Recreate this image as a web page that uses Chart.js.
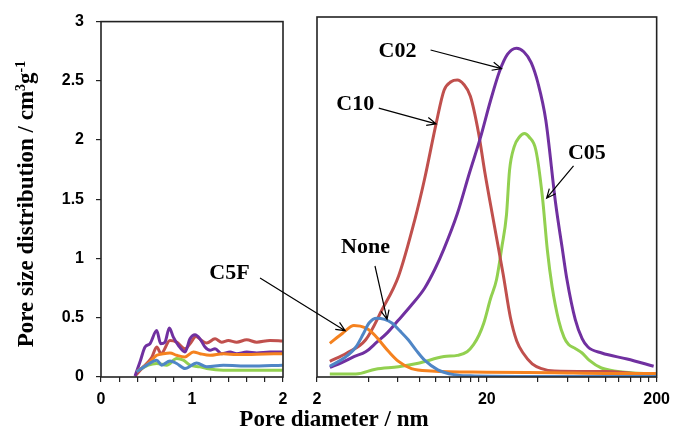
<!DOCTYPE html>
<html>
<head>
<meta charset="utf-8">
<script src="https://cdn.jsdelivr.net/npm/chart.js@4/dist/chart.umd.min.js"></script>
<style>
  html, body { margin: 0; padding: 0; background: #fff; }
  #wrap { position: relative; width: 678px; height: 432px; }
  #wrap canvas { position: absolute; left: 0; top: 0; }
  #meso { pointer-events: none; }
</style>
</head>
<body>
<div id="wrap">
  <canvas id="micro" width="678" height="432"></canvas>
  <canvas id="meso" width="678" height="432"></canvas>
</div>
<script>
// series names and colours
const seriesNames = ["None", "C5F", "C02", "C10", "C05"];
const seriesColors = ["#4f86c6", "#f5821f", "#7030a0", "#c0504d", "#92d050"];

// left panel: pore diameter 0-2 nm (linear)
const noneMicro = [[0.392,0.044],[0.502,0.1],[0.612,0.142],[0.667,0.1],[0.758,0.136],[0.832,0.114],[0.923,0.072],[1.051,0.119],[1.161,0.086],[1.344,0.1],[1.637,0.092],[1.996,0.1]];
const c5fMicro = [[0.392,0.044],[0.538,0.128],[0.612,0.183],[0.685,0.197],[0.758,0.203],[0.832,0.183],[0.923,0.169],[1.015,0.211],[1.088,0.197],[1.198,0.183],[1.344,0.197],[1.491,0.189],[1.711,0.192],[1.996,0.197]];
const c02Micro = [[0.374,0.008],[0.429,0.128],[0.484,0.253],[0.538,0.281],[0.612,0.392],[0.656,0.281],[0.703,0.294],[0.751,0.414],[0.795,0.336],[0.85,0.267],[0.923,0.211],[0.978,0.322],[1.033,0.356],[1.088,0.322],[1.143,0.253],[1.198,0.225],[1.253,0.239],[1.326,0.197],[1.418,0.211],[1.491,0.197],[1.601,0.211],[1.711,0.203],[1.857,0.211],[1.996,0.211]];
const c10Micro = [[0.374,0.008],[0.465,0.086],[0.557,0.164],[0.612,0.253],[0.66,0.197],[0.758,0.308],[0.832,0.294],[0.923,0.239],[0.978,0.281],[1.044,0.342],[1.106,0.308],[1.161,0.286],[1.253,0.322],[1.326,0.294],[1.399,0.308],[1.491,0.294],[1.601,0.314],[1.711,0.294],[1.857,0.308],[1.996,0.303]];
const c05Micro = [[0.392,0.044],[0.52,0.1],[0.612,0.114],[0.722,0.1],[0.832,0.156],[0.905,0.142],[0.978,0.1],[1.088,0.086],[1.161,0.072],[1.344,0.058],[1.637,0.058],[1.996,0.058]];

// right panel: pore diameter 2-200 nm (log)
const noneMeso = [[2.38,0.09],[2.9,0.16],[3.39,0.25],[3.75,0.36],[4.05,0.45],[4.5,0.49],[5.0,0.48],[5.52,0.45],[6.2,0.38],[6.89,0.31],[7.7,0.22],[8.6,0.14],[10.3,0.06],[12.8,0.02],[16,0.01],[30,0.005],[198,0.005]];
const c5fMeso = [[2.38,0.28],[2.83,0.365],[3.3,0.43],[3.87,0.41],[4.3,0.36],[4.62,0.31],[5.3,0.21],[6.04,0.13],[7.2,0.07],[9.4,0.05],[20,0.04],[50,0.035],[100,0.03],[198,0.03]];
const c02Meso = [[2.38,0.08],[2.8,0.12],[3.3,0.17],[3.87,0.21],[4.5,0.29],[5.2,0.37],[6.0,0.47],[7.2,0.6],[8.6,0.74],[9.9,0.9],[11.2,1.07],[13.4,1.36],[15.8,1.7],[18.3,1.99],[21,2.3],[23.8,2.55],[26.5,2.69],[29.9,2.74],[33,2.71],[36.5,2.62],[40,2.45],[44.5,2.14],[50.8,1.45],[55.5,1.08],[59.3,0.81],[66.3,0.48],[72.8,0.32],[78.8,0.25],[95,0.2],[134,0.15],[192,0.09]];
const c10Meso = [[2.38,0.13],[3.0,0.2],[3.87,0.31],[4.83,0.56],[6.04,0.84],[7.53,1.31],[8.6,1.65],[10.05,2.11],[11.2,2.39],[12.3,2.46],[13.4,2.475],[14.6,2.44],[16.0,2.34],[17.9,2.03],[19.5,1.7],[21.9,1.3],[25,0.85],[27.5,0.5],[30,0.3],[32.7,0.2],[37,0.11],[42,0.07],[50,0.05],[100,0.045],[150,0.03],[192,0.02]];
const c05Meso = [[2.38,0.025],[3.39,0.025],[4.42,0.065],[6.04,0.086],[7.9,0.115],[11.2,0.17],[13.4,0.18],[15.3,0.21],[16.7,0.27],[18,0.35],[19.2,0.45],[21,0.65],[22.8,0.81],[24.5,1.08],[26.1,1.35],[27.2,1.72],[29,1.92],[31.1,2.0],[33.3,2.03],[35.5,2.0],[38.9,1.89],[42.5,1.5],[45.5,1.05],[48.5,0.75],[53,0.47],[57,0.33],[60.6,0.27],[66,0.24],[72.8,0.2],[80,0.14],[94.6,0.075],[130,0.04],[192,0.025]];

// axis ticks
const yTickStep = 0.5;
const microTickStep = 0.2;
const mesoTicks = [2,4,6,8,10,12,14,16,18,20,40,60,80,100,120,140,160,180,200];
const mesoTickLabels = [2, 20, 200];

// annotation labels: text, label centre, arrow start, arrow tip (data units of right panel)
const annoText = ["C02", "C10", "C05", "None", "C5F"];
const annoAt = [[5.96,2.73],[3.36,2.29],[77.7,1.88],[3.86,1.10],[0.61,0.88]];
const annoFrom = [[9.33,2.725],[4.62,2.24],[64.8,1.76],[4.39,0.925],[0.924,0.825]];
const annoTo = [[24.4,2.57],[10.05,2.11],[45.0,1.49],[5.17,0.48],[2.93,0.386]];

const serif = '"Liberation Serif", "Times New Roman", serif';
const sans = '"Liberation Sans", Arial, sans-serif';
const axisColor = "#222";

const toXY = (pts) => pts.map((p) => ({ x: p[0], y: p[1] }));

function makeDatasets(list) {
  return list.map((pts, i) => ({
    label: seriesNames[i],
    data: toXY(pts),
    borderColor: seriesColors[i],
    borderWidth: 3,
    pointRadius: 0,
    fill: false,
    cubicInterpolationMode: "monotone",
  }));
}

// box around each plot area
const framePlugin = {
  id: "frame",
  afterDraw(chart) {
    const { ctx, chartArea: a } = chart;
    ctx.save();
    ctx.strokeStyle = axisColor;
    ctx.lineWidth = 1.6;
    ctx.strokeRect(a.left, a.top, a.right - a.left, a.bottom - a.top);
    ctx.restore();
  },
};

function drawArrow(ctx, x1, y1, x2, y2) {
  const ang = Math.atan2(y2 - y1, x2 - x1);
  const len = 10, spread = 0.42;
  ctx.beginPath();
  ctx.moveTo(x1, y1);
  ctx.lineTo(x2, y2);
  ctx.moveTo(x2 - len * Math.cos(ang - spread), y2 - len * Math.sin(ang - spread));
  ctx.lineTo(x2, y2);
  ctx.lineTo(x2 - len * Math.cos(ang + spread), y2 - len * Math.sin(ang + spread));
  ctx.stroke();
}

// labels, arrows and the shared x title
const labelPlugin = {
  id: "labels",
  afterDraw(chart) {
    const { ctx } = chart;
    const xs = chart.scales.x, ys = chart.scales.y;
    ctx.save();
    ctx.fillStyle = "#000";
    ctx.strokeStyle = "#000";
    ctx.lineWidth = 1.2;
    ctx.font = "bold 22px " + serif;
    ctx.textAlign = "center";
    ctx.textBaseline = "alphabetic";
    annoText.forEach((t, i) => {
      const px = xs.getPixelForValue(annoAt[i][0]);
      const py = ys.getPixelForValue(annoAt[i][1]);
      ctx.fillText(t, px, py + 7.5);
      drawArrow(ctx,
        xs.getPixelForValue(annoFrom[i][0]), ys.getPixelForValue(annoFrom[i][1]),
        xs.getPixelForValue(annoTo[i][0]), ys.getPixelForValue(annoTo[i][1]));
    });
    ctx.font = "bold 23px " + serif;
    ctx.fillText("Pore diameter / nm", 334, 426);
    ctx.restore();
  },
};

// y title with superscripts, drawn on the left chart
const yTitlePlugin = {
  id: "ytitle",
  afterDraw(chart) {
    const { ctx } = chart;
    const parts = [
      ["Pore size distribution / cm", false],
      ["3", true],
      ["g", false],
      ["-1", true],
    ];
    const big = "bold 23px " + serif, small = "bold 14px " + serif;
    let total = 0;
    parts.forEach(([t, sup]) => { ctx.font = sup ? small : big; total += ctx.measureText(t).width; });
    ctx.save();
    ctx.translate(33, 204);
    ctx.rotate(-Math.PI / 2);
    ctx.fillStyle = "#000";
    ctx.textAlign = "left";
    ctx.textBaseline = "alphabetic";
    let x = -total / 2;
    parts.forEach(([t, sup]) => {
      ctx.font = sup ? small : big;
      ctx.fillText(t, x, sup ? -8 : 0);
      x += ctx.measureText(t).width;
    });
    ctx.restore();
  },
};

const tickFont = { family: sans, size: 16, weight: "bold" };

new Chart(document.getElementById("micro"), {
  type: "line",
  data: { datasets: makeDatasets([noneMicro, c5fMicro, c02Micro, c10Micro, c05Micro]) },
  options: {
    responsive: false,
    animation: false,
    layout: { padding: { left: 0, top: 17, right: 395, bottom: 0 } },
    plugins: { legend: { display: false }, tooltip: { enabled: false } },
    scales: {
      x: {
        type: "linear",
        min: 0,
        max: 2,
        border: { display: false },
        grid: { drawOnChartArea: false, tickLength: 5, color: axisColor, lineWidth: 1.2 },
        ticks: {
          stepSize: microTickStep,
          autoSkip: false,
          maxRotation: 0,
          padding: 8,
          color: "#000",
          font: tickFont,
          callback: (v) => (Math.abs(v - Math.round(v)) < 1e-6 ? String(Math.round(v)) : ""),
        },
        afterFit: (s) => { s.height = 55; },
      },
      y: {
        min: 0,
        max: 3,
        border: { display: false },
        grid: { drawOnChartArea: false, tickLength: 5, color: axisColor, lineWidth: 1.2 },
        ticks: {
          stepSize: yTickStep,
          padding: 12,
          color: "#000",
          font: tickFont,
          callback: (v) => String(Math.round(v * 10) / 10),
        },
        afterFit: (s) => { s.width = 101; },
      },
    },
  },
  plugins: [framePlugin, yTitlePlugin],
});

new Chart(document.getElementById("meso"), {
  type: "line",
  data: { datasets: makeDatasets([noneMeso, c5fMeso, c02Meso, c10Meso, c05Meso]) },
  options: {
    responsive: false,
    animation: false,
    events: [],
    layout: { padding: { left: 317, top: 17, right: 15, bottom: 0 } },
    plugins: { legend: { display: false }, tooltip: { enabled: false } },
    scales: {
      x: {
        type: "logarithmic",
        min: 2,
        max: 200,
        border: { display: false },
        grid: { drawOnChartArea: false, tickLength: 5, color: axisColor, lineWidth: 1.2 },
        afterBuildTicks: (s) => { s.ticks = mesoTicks.map((v) => ({ value: v })); },
        ticks: {
          autoSkip: false,
          maxRotation: 0,
          padding: 8,
          color: "#000",
          font: tickFont,
          callback: (v) => (mesoTickLabels.includes(v) ? String(v) : ""),
        },
        afterFit: (s) => { s.height = 55; },
      },
      y: { display: false, min: 0, max: 3 },
    },
  },
  plugins: [framePlugin, labelPlugin],
});
</script>
</body>
</html>
